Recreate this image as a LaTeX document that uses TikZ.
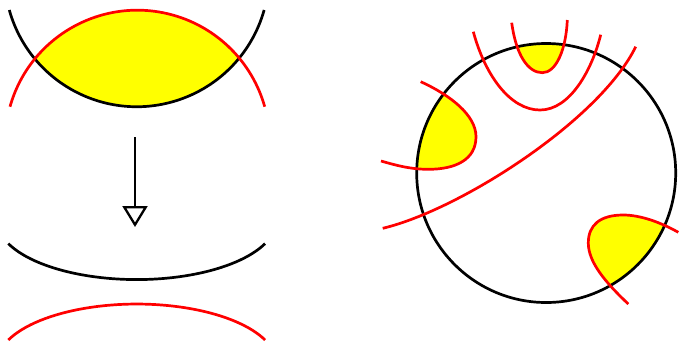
\documentclass[tikz,border=0pt]{standalone}
\usetikzlibrary{arrows.meta}
\definecolor{pureyellow}{RGB}{255,255,0}
\definecolor{purered}{RGB}{255,0,0}
\begin{document}
\begin{tikzpicture}[x=1pt,y=-1pt,
  blk/.style={draw=black,line width=2.7pt},
  rd/.style={draw=purered,line width=2.7pt},
  yel/.style={fill=pureyellow}]
\useasboundingbox (0,0) rectangle (679,341);
% ---- left: before ----
\fill[yel] (34.4,58.35) arc[start angle=140.6,end angle=39.4,radius=132.3]
  arc[start angle=320.6,end angle=219.4,radius=132.3] -- cycle;
\draw[blk] (9.3,10) arc[start angle=164.4,end angle=15.6,radius=132.3];
\draw[rd] (10,106.7) arc[start angle=195.7,end angle=344.3,radius=132.3];
% ---- arrow ----
\coordinate (atop) at (135,137);
\coordinate (atip) at (135,227);
\draw[line width=2.3pt,-{Triangle[open,length=21pt,width=25pt]}] (atop) -- (atip);
% ---- left: after ----
\draw[blk] (8.3,243.6) arc[start angle=156.5,end angle=23.5,x radius=140,y radius=59.8];
\draw[rd] (8.3,340) arc[start angle=203.5,end angle=336.5,x radius=140,y radius=59.8];
% ---- right: circle with regions ----
\coordinate (c) at (546.2,173);
\begin{scope}
  \clip (c) circle[radius=129.5];
  \fill[yel] (511.7,22.7) .. controls (516,55) and (528,72.7) .. (542.3,72.7)
     .. controls (556,72.7) and (566,50) .. (567.3,20) -- cycle;
  \fill[yel] (420.7,81.7) .. controls (450,95) and (476,115) .. (476,136.7)
     .. controls (476,160) and (455,169.3) .. (428.3,169.3)
     .. controls (410,169.3) and (395,165) .. (381,161) -- cycle;
  \fill[yel] (678.3,232.3) .. controls (660,222) and (640,215) .. (623.3,215)
     .. controls (600,215) and (588.3,225) .. (588.3,243)
     .. controls (588.3,262) and (605,282) .. (628.3,304) -- cycle;
\end{scope}
\draw[blk] (c) circle[radius=129.5];
\draw[rd] (511.7,22.7) .. controls (516,55) and (528,72.7) .. (542.3,72.7)
     .. controls (556,72.7) and (566,50) .. (567.3,20);
\draw[rd] (473.3,31.7) .. controls (485,75) and (510,110) .. (540,110)
     .. controls (570,110) and (592,70) .. (600.7,34.7);
\draw[rd] (382.7,228.3) .. controls (460,210) and (600,120) .. (635.7,46.7);
\draw[rd] (420.7,81.7) .. controls (450,95) and (476,115) .. (476,136.7)
     .. controls (476,160) and (455,169.3) .. (428.3,169.3)
     .. controls (410,169.3) and (395,165) .. (381,161);
\draw[rd] (678.3,232.3) .. controls (660,222) and (640,215) .. (623.3,215)
     .. controls (600,215) and (588.3,225) .. (588.3,243)
     .. controls (588.3,262) and (605,282) .. (628.3,304);
\end{tikzpicture}
\end{document}
